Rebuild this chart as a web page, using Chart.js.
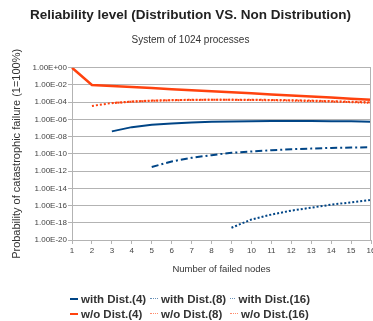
<!DOCTYPE html>
<html>
<head>
<meta charset="utf-8">
<script src="https://cdn.jsdelivr.net/npm/chart.js@4.4.1/dist/chart.umd.min.js"></script>
<style>
  html, body { margin: 0; padding: 0; background: #fff; }
  #wrap { position: relative; width: 373px; height: 321px; }
  #legend { position: absolute; left: 70px; top: 291px; font-family: "Liberation Sans", Arial, sans-serif; font-weight: bold; font-size: 11.5px; color: #333; }
  .row { display: flex; height: 15px; align-items: center; }
  .item { width: 80px; display: flex; align-items: center; white-space: nowrap; }
  .sym { width: 8px; height: 0; margin-right: 3px; }
</style>
</head>
<body>
<div id="wrap">
  <canvas id="c"></canvas>
  <div id="legend"></div>
</div>
<script>
const categories = ['1','2','3','4','5','6','7','8','9','10','11','12','13','14','15','16'];
const seriesNames = ['with Dist.(4)', 'with Dist.(8)', 'with Dist.(16)', 'w/o Dist.(4)', 'w/o Dist.(8)', 'w/o Dist.(16)'];
// log10 values (null = no value)
const withDist4  = [null, null, -7.39, -6.90, -6.63, -6.47, -6.36, -6.28, -6.24, -6.21, -6.20, -6.20, -6.20, -6.21, -6.23, -6.27];
const withDist8  = [null, null, null, null, -11.53, -10.88, -10.46, -10.15, -9.88, -9.73, -9.58, -9.46, -9.39, -9.31, -9.27, -9.23];
const withDist16 = [null, null, null, null, null, null, null, null, -18.58, -17.62, -17.05, -16.59, -16.25, -15.90, -15.63, -15.36];
const woDist4    = [0, -2.00, -2.12, -2.24, -2.36, -2.49, -2.61, -2.73, -2.86, -2.98, -3.10, -3.22, -3.35, -3.47, -3.60, -3.72];
const woDist8    = [null, -4.44, -4.10, -3.92, -3.82, -3.76, -3.72, -3.71, -3.71, -3.72, -3.74, -3.77, -3.82, -3.88, -3.95, -4.02];
const woDist16   = [null, null, -4.12, -3.94, -3.84, -3.78, -3.74, -3.73, -3.73, -3.75, -3.78, -3.82, -3.87, -3.93, -4.00, -4.08];
const yTickExponents = [0, -2, -4, -6, -8, -10, -12, -14, -16, -18, -20];
const yTickLabels = ['1.00E+00','1.00E-02','1.00E-04','1.00E-06','1.00E-08','1.00E-10','1.00E-12','1.00E-14','1.00E-16','1.00E-18','1.00E-20'];

const BLUE = '#004586', RED = '#ff420e';
const toVal = a => a.map(v => v === null ? null : Math.pow(10, v));

const styles = [
  {color: BLUE, dash: [], width: 2, css: 'solid'},
  {color: BLUE, dash: [7, 3, 2, 3], width: 2, css: 'dotted'},
  {color: BLUE, dash: [2, 2], width: 2, css: 'dotted'},
  {color: RED, dash: [], width: 2.5, css: 'solid'},
  {color: RED, dash: [2, 2], width: 2, css: 'dotted'},
  {color: RED, dash: [1.5, 1.5], width: 2, css: 'dotted'}
];
const allData = [withDist4, withDist8, withDist16, woDist4, woDist8, woDist16];

const datasets = allData.map((d, i) => ({
  label: seriesNames[i],
  data: toVal(d),
  borderColor: styles[i].color,
  backgroundColor: styles[i].color,
  borderWidth: styles[i].width,
  borderDash: styles[i].dash,
  pointRadius: 0,
  tension: 0,
  fill: false
}));

const frame = {
  id: 'frame',
  afterDatasetsDraw(chart) {
    const a = chart.chartArea, ctx = chart.ctx;
    ctx.save();
    ctx.strokeStyle = '#b3b3b3';
    ctx.lineWidth = 1;
    ctx.beginPath();
    ctx.moveTo(Math.round(a.right) - 0.5, a.top);
    ctx.lineTo(Math.round(a.right) - 0.5, a.bottom);
    ctx.stroke();
    ctx.restore();
  }
};

const FONT = '"Liberation Sans", Arial, sans-serif';
new Chart(document.getElementById('c'), {
  type: 'line',
  data: { labels: categories, datasets },
  plugins: [frame],
  options: {
    responsive: true,
    maintainAspectRatio: false,
    animation: false,
    layout: { padding: { left: 10, right: 2, top: 0, bottom: 46 } },
    plugins: {
      legend: { display: false },
      tooltip: { enabled: false },
      title: {
        display: true,
        text: 'Reliability level (Distribution VS. Non Distribution)',
        color: '#222',
        font: { family: FONT, size: 13.5, weight: 'bold' },
        padding: { top: 7, bottom: 11 }
      },
      subtitle: {
        display: true,
        text: 'System of 1024 processes',
        color: '#333',
        font: { family: FONT, size: 10 },
        padding: { top: 0, bottom: 21.5 }
      }
    },
    scales: {
      x: {
        type: 'category',
        offset: false,
        afterFit(scale) { scale.paddingRight = 0; scale.paddingLeft = 0; },
        grid: { display: true, drawOnChartArea: false, drawTicks: true, tickLength: 4, color: '#b3b3b3' },
        border: { display: true, color: '#b3b3b3' },
        ticks: { color: '#444', font: { family: FONT, size: 8 }, padding: 2, maxRotation: 0, autoSkip: false },
        title: { display: true, text: 'Number of failed nodes', color: '#333', font: { family: FONT, size: 9.5 }, padding: { top: 6, bottom: 0 } }
      },
      y: {
        type: 'logarithmic',
        min: 1e-20,
        max: 1,
        afterBuildTicks(scale) {
          scale.ticks = yTickExponents.map(e => ({ value: Math.pow(10, e) }));
        },
        afterFit(scale) { scale.width = 62; },
        grid: { color: '#b3b3b3', tickLength: 4 },
        border: { display: true, color: '#b3b3b3' },
        ticks: {
          color: '#444',
          font: { family: FONT, size: 8 },
          padding: 1,
          callback(value, index) { return yTickLabels[index]; }
        },
        title: { display: true, text: 'Probability of catastrophic failure (1=100%)', color: '#333', font: { family: FONT, size: 11 }, padding: { top: 0, bottom: 4 } }
      }
    }
  }
});

// HTML legend (real text), 2 rows x 3 columns
const legend = document.getElementById('legend');
for (let r = 0; r < 2; r++) {
  const row = document.createElement('div');
  row.className = 'row';
  for (let c = 0; c < 3; c++) {
    const i = r * 3 + c;
    const item = document.createElement('div');
    item.className = 'item';
    const sym = document.createElement('span');
    sym.className = 'sym';
    sym.style.borderTop = (styles[i].css === 'solid' ? '2px' : '1px') + ' ' + styles[i].css + ' ' + styles[i].color;
    if (styles[i].css !== 'solid') sym.style.opacity = '0.6';
    const txt = document.createElement('span');
    txt.textContent = seriesNames[i];
    item.appendChild(sym);
    item.appendChild(txt);
    row.appendChild(item);
  }
  legend.appendChild(row);
}
</script>
</body>
</html>
